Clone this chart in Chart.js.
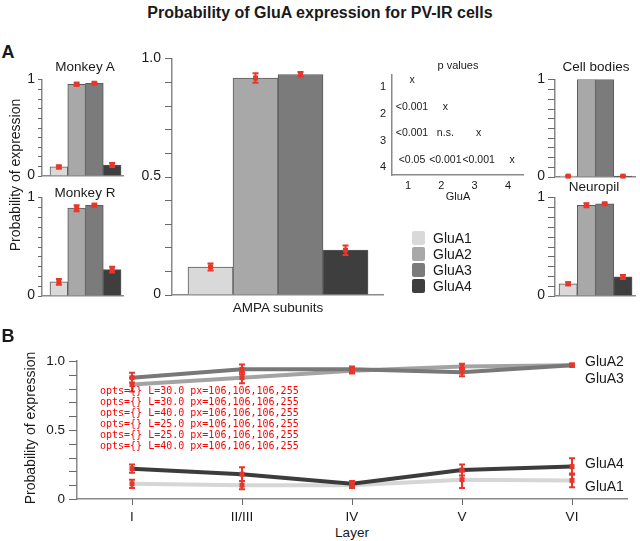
<!DOCTYPE html>
<html lang="en">
<head>
<meta charset="UTF-8">
<title>Probability of GluA expression for PV-IR cells</title>
<script src="https://cdn.jsdelivr.net/npm/chart.js"></script>
</head>
<body>
<div id="stage"></div>
<script>
// ---- data ----
const subunits = ['GluA1', 'GluA2', 'GluA3', 'GluA4'];

const monkeyA = [0.09, 0.95, 0.96, 0.11];
const monkeyAErr = [0.015, 0.015, 0.01, 0.02];
const monkeyR = [0.14, 0.89, 0.92, 0.265];
const monkeyRErr = [0.03, 0.03, 0.015, 0.03];
const allCells = [0.117, 0.917, 0.932, 0.188];
const allCellsErr = [0.015, 0.02, 0.01, 0.02];
const cellBodies = [0.005, 1.0, 1.0, 0.005];
const cellBodiesErr = [0.005, 0, 0, 0.005];
const neuropil = [0.12, 0.92, 0.935, 0.19];
const neuropilErr = [0.015, 0.02, 0.01, 0.02];

// y tick positions (minor every 0.1) and which of them carry a label
const probTicks = [0, 0.1, 0.2, 0.3, 0.4, 0.5, 0.6, 0.7, 0.8, 0.9, 1];
const labels01 = { 0: '0', 1: '1' };
const labelsHalf = { 0: '0', 0.5: '0.5', 1: '1.0' };

// p values, row i compares GluA(i+1) with GluA(col+1)
const pTable = [
    ['x'],
    ['<0.001', 'x'],
    ['<0.001', 'n.s.', 'x'],
    ['<0.05', '<0.001', '<0.001', 'x']
];
const pTicks = [1, 2, 3, 4];

const layers = ['I', 'II/III', 'IV', 'V', 'VI'];
const layerGluA1 = [0.11, 0.10, 0.10, 0.14, 0.135];
const layerGluA1Err = [0.03, 0.03, 0.02, 0.06, 0.05];
const layerGluA2 = [0.83, 0.88, 0.93, 0.96, 0.97];
const layerGluA2Err = [0.05, 0.04, 0.02, 0.02, 0.01];
const layerGluA3 = [0.88, 0.94, 0.94, 0.92, 0.97];
const layerGluA3Err = [0.035, 0.035, 0.02, 0.03, 0.01];
const layerGluA4 = [0.22, 0.18, 0.11, 0.21, 0.235];
const layerGluA4Err = [0.03, 0.05, 0.02, 0.04, 0.06];

// ---- styling ----
const barColors = ['#d9d9d9', '#a8a8a8', '#7b7b7b', '#3e3e3e'];
const lineColors = ['#d6d6d6', '#a3a3a3', '#787878', '#3c3c3c'];
const RED = '#e8372a';
const AXIS = '#8a8a8a';
const TICK = '#6a6a6a';
const FONT = '"Liberation Sans", Arial, sans-serif';

Chart.defaults.font.family = FONT;
Chart.defaults.color = '#1a1a1a';
Chart.defaults.animation = false;
Chart.defaults.plugins.legend.display = false;
Chart.defaults.plugins.tooltip.enabled = false;

document.body.style.cssText = 'margin:0;background:#fff;';
const stage = document.getElementById('stage');
stage.style.cssText = 'position:relative;width:640px;height:541px;overflow:hidden;font-family:' + FONT + ';color:#1a1a1a;';

const PAD_T = 10, PAD_R = 8;
const dbg = [];

// put a canvas so the plot area lands on rect
function addChart(rect, yw, xh, config) {
    const c = document.createElement('canvas');
    const w = rect.r - rect.l + yw + PAD_R;
    const h = rect.b - rect.t + PAD_T + xh;
    c.width = w;
    c.height = h;
    c.style.cssText = `position:absolute;left:${rect.l - yw}px;top:${rect.t - PAD_T}px;width:${w}px;height:${h}px;`;
    stage.appendChild(c);
    config.options.responsive = false;
    config.options.layout = { padding: { top: PAD_T, right: PAD_R, left: 0, bottom: 0 } };
    config.options.scales.y.afterFit = s => { s.width = yw; };
    config.options.scales.x.afterFit = s => { s.height = xh; };
    return new Chart(c, config);
}

function text(str, x, y, css, rotate) {
    const d = document.createElement('div');
    d.textContent = str;
    d.style.cssText = `position:absolute;left:${x}px;top:${y}px;white-space:nowrap;line-height:1;` +
        `transform:translate(-50%,-50%)${rotate ? ' rotate(-90deg)' : ''};` + (css || '');
    stage.appendChild(d);
    return d;
}

// red error bars, value +- err, drawn on the chart's own y scale
const errorBars = {
    id: 'errorBars',
    afterDatasetsDraw(chart) {
        const ctx = chart.ctx;
        const ys = chart.scales.y;
        chart.data.datasets.forEach((ds, di) => {
            if (!ds.errors) return;
            const meta = chart.getDatasetMeta(di);
            meta.data.forEach((el, i) => {
                const raw = ds.data[i];
                const v = typeof raw === 'object' ? raw.y : raw;
                const e = ds.errors[i];
                if (!e) return;
                const x = el.x;
                const top = ys.getPixelForValue(v + e);
                const bot = ys.getPixelForValue(v - e);
                const mid = ys.getPixelForValue(v);
                ctx.save();
                ctx.strokeStyle = RED;
                ctx.fillStyle = RED;
                ctx.lineWidth = 2;
                ctx.beginPath();
                ctx.moveTo(x, top); ctx.lineTo(x, bot);
                ctx.moveTo(x - 3, top); ctx.lineTo(x + 3, top);
                ctx.moveTo(x - 3, bot); ctx.lineTo(x + 3, bot);
                ctx.stroke();
                ctx.fillRect(x - 2.5, mid - 2.5, 5, 5);
                ctx.restore();
            });
        });
    }
};

// outside tick marks, placed with the scales' own pixel mapping
const tickMarks = {
    id: 'tickMarks',
    afterDraw(chart, args, opts) {
        const ctx = chart.ctx;
        const area = chart.chartArea;
        const cfg = chart.config.options.tickSpec || {};
        ctx.save();
        ctx.strokeStyle = TICK;
        ctx.lineWidth = 1;
        ctx.beginPath();
        if (cfg.y) {
            const s = chart.scales.y;
            const x0 = Math.round(area.left);
            cfg.y.values.forEach(v => {
                const p = Math.round(s.getPixelForValue(v)) + 0.5;
                ctx.moveTo(x0 - cfg.y.len, p);
                ctx.lineTo(x0, p);
            });
        }
        if (cfg.x) {
            const s = chart.scales.x;
            const y0 = Math.round(area.bottom);
            cfg.x.values.forEach(v => {
                const p = Math.round(s.getPixelForValue(v)) + 0.5;
                ctx.moveTo(p, y0);
                ctx.lineTo(p, y0 + cfg.x.len);
            });
        }
        ctx.stroke();
        ctx.restore();
        if (cfg.y) {
            const s = chart.scales.y;
            const px = ctx.getImageData(Math.round(area.left) - 2, Math.round(s.getPixelForValue(0.3)), 1, 1).data;
            dbg.push('opts=' + JSON.stringify(opts).slice(0, 30) + ' L=' + area.left.toFixed(1) + ' px=' + Array.from(px).join(','));
        }
    }
};

function yTicks(labels, tickLen, pad, size) {
    return {
        min: 0, max: 1,
        afterBuildTicks: s => { s.ticks = probTicks.map(v => ({ value: v })); },
        border: { display: true, color: AXIS, width: 1.5 },
        grid: { display: false, drawTicks: true, tickLength: tickLen },
        ticks: {
            padding: pad, font: { size: size }, autoSkip: false,
            callback: v => {
                const r = Math.round(v * 10) / 10;
                return labels[r] !== undefined ? labels[r] : '';
            }
        }
    };
}

function barPanel(rect, yw, values, errors, xmin, xmax, labels, tickLen, pad, size) {
    return addChart(rect, yw, 10, {
        type: 'bar',
        data: {
            datasets: [{
                data: values.map((v, i) => ({ x: i, y: v })),
                errors: errors,
                backgroundColor: barColors,
                borderColor: '#5a5a5a',
                borderWidth: 1,
                categoryPercentage: 1,
                barPercentage: 1
            }]
        },
        options: {
            tickSpec: { y: { values: probTicks, len: tickLen } },
            scales: {
                x: {
                    type: 'linear', min: xmin, max: xmax,
                    afterBuildTicks: s => { s.ticks = []; },
                    ticks: { display: false },
                    grid: { display: false, drawTicks: false },
                    border: { display: true, color: AXIS, width: 1.5 }
                },
                y: yTicks(labels, tickLen, pad, size)
            }
        },
        plugins: [errorBars, tickMarks]
    });
}

// ---- panel A ----
barPanel({ l: 42, r: 123, t: 78, b: 177 }, 30, monkeyA, monkeyAErr, -0.95, 3.61, labels01, 4, 3, 14);
barPanel({ l: 42, r: 123, t: 196, b: 297 }, 30, monkeyR, monkeyRErr, -0.95, 3.61, labels01, 4, 3, 14);
barPanel({ l: 172, r: 383, t: 56, b: 297 }, 40, allCells, allCellsErr, -0.856, 3.833, labelsHalf, 7, 4, 14);
barPanel({ l: 555, r: 635, t: 78, b: 178 }, 25, cellBodies, cellBodiesErr, -0.72, 3.66, labels01, 7, 3, 14);
barPanel({ l: 555, r: 635, t: 196, b: 297 }, 25, neuropil, neuropilErr, -0.72, 3.66, labels01, 7, 3, 14);

// p value table drawn on a scatter frame
const pCells = [];
pTable.forEach((row, r) => row.forEach((lab, c) => pCells.push({ x: c + 1, y: r + 1, label: lab })));

const cellText = {
    id: 'cellText',
    afterDatasetsDraw(chart) {
        const ctx = chart.ctx;
        const meta = chart.getDatasetMeta(0);
        ctx.save();
        ctx.font = '10.5px ' + FONT;
        ctx.fillStyle = '#1a1a1a';
        ctx.textAlign = 'center';
        ctx.textBaseline = 'middle';
        meta.data.forEach((el, i) => ctx.fillText(pCells[i].label, el.x + 4, el.y - 7));
        ctx.restore();
    }
};

addChart({ l: 392, r: 523, t: 72, b: 175 }, 30, 20, {
    type: 'scatter',
    data: { datasets: [{ data: pCells, pointRadius: 0 }] },
    options: {
        scales: {
            x: {
                type: 'linear', min: 0.52, max: 4.45,
                afterBuildTicks: s => { s.ticks = pTicks.map(v => ({ value: v })); },
                grid: { display: false, drawTicks: false },
                border: { display: true, color: AXIS, width: 1.5 },
                ticks: { padding: 4, font: { size: 11 } }
            },
            y: {
                type: 'linear', min: 0.52, max: 4.3, reverse: true,
                afterBuildTicks: s => { s.ticks = pTicks.map(v => ({ value: v })); },
                grid: { display: false, drawTicks: false },
                border: { display: true, color: AXIS, width: 1.5 },
                ticks: { padding: 6, font: { size: 11 } }
            }
        }
    },
    plugins: [cellText]
});

// ---- panel B ----
function lineSet(label, values, errors, color) {
    return {
        label: label, data: values, errors: errors,
        borderColor: color, backgroundColor: color,
        borderWidth: 4, pointRadius: 0, tension: 0, fill: false
    };
}

addChart({ l: 77, r: 627, t: 359, b: 499 }, 40, 24, {
    type: 'line',
    data: {
        labels: layers,
        datasets: [
            lineSet('GluA4', layerGluA4, layerGluA4Err, lineColors[3]),
            lineSet('GluA3', layerGluA3, layerGluA3Err, lineColors[2]),
            lineSet('GluA2', layerGluA2, layerGluA2Err, lineColors[1]),
            lineSet('GluA1', layerGluA1, layerGluA1Err, lineColors[0])
        ]
    },
    options: {
        tickSpec: {
            y: { values: probTicks, len: 8 },
            x: { values: layers.map((l, i) => i), len: 6 }
        },
        scales: {
            x: {
                type: 'category', offset: true,
                grid: { display: false, drawTicks: true, tickLength: 6 },
                border: { display: true, color: AXIS, width: 1.5 },
                ticks: { padding: 4, font: { size: 13.5 } }
            },
            y: yTicks(labelsHalf, 8, 4, 13.5)
        }
    },
    plugins: [errorBars, tickMarks]
});

// ---- text ----
text('Probability of GluA expression for PV-IR cells', 320, 13, 'font-size:16px;font-weight:bold;');
text('A', 8, 52, 'font-size:18px;font-weight:bold;');
text('B', 8, 336, 'font-size:18px;font-weight:bold;');
text('Probability of expression', 15, 175, 'font-size:14px;', true);
text('Monkey A', 85, 67, 'font-size:13.5px;');
text('Monkey R', 85, 193, 'font-size:13.5px;');
text('AMPA subunits', 278, 308, 'font-size:13.5px;');
text('Cell bodies', 596, 67, 'font-size:13.5px;');
text('Neuropil', 594, 187, 'font-size:13.5px;');
text('p values', 458, 65, 'font-size:11px;');
text('GluA', 458, 196, 'font-size:11px;');

// legend
subunits.forEach((name, i) => {
    const y = 238 + i * 16;
    const sw = document.createElement('div');
    sw.style.cssText = `position:absolute;left:412px;top:${y - 7}px;width:13px;height:14px;border-radius:2px;background:${barColors[i]};`;
    stage.appendChild(sw);
    const t = text(name, 433, y, 'font-size:14px;');
    t.style.transform = 'translate(0,-50%)';
});

text('Probability of expression', 30, 428, 'font-size:14px;', true);
text('Layer', 352, 533, 'font-size:13.5px;');
[['GluA2', 361], ['GluA3', 378], ['GluA4', 463], ['GluA1', 486]].forEach(([name, y]) => {
    const t = text(name, 585, y, 'font-size:14px;');
    t.style.transform = 'translate(0,-50%)';
});

const dd = document.createElement('div');
dd.style.cssText = 'position:absolute;left:100px;top:385px;font:10px monospace;color:red;white-space:pre;';
dd.textContent = dbg.join('\n');
stage.appendChild(dd);
</script>
</body>
</html>
